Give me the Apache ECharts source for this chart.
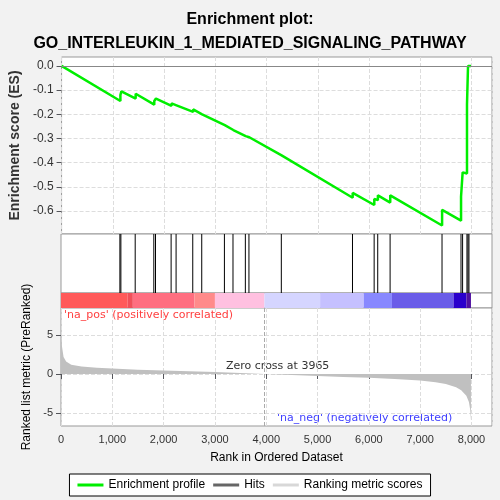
<!DOCTYPE html>
<html><head><meta charset="utf-8">
<script src="https://cdn.jsdelivr.net/npm/echarts@6/dist/echarts.min.js"></script>
<style>body{margin:0;background:#f2f2f2}#c{width:500px;height:500px}</style></head>
<body><div id="c"></div>
<script>
// hit ranks and the ES step around each hit (before, after)
var hitRanks = [1148,1167,1446,1809,1842,2146,2243,2568,2743,3185,3352,3593,3663,4294,5681,6103,6173,6414,7426,7796,7827,7912,7932,7951];
var esBefore = [-0.145,-0.12,-0.135,-0.16,-0.145,-0.165,-0.163,-0.19,-0.2,-0.245,-0.265,-0.29,-0.295,-0.37,-0.545,-0.575,-0.555,-0.565,-0.66,-0.64,-0.54,-0.445,-0.16,0.0];
var esAfter  = [-0.12,-0.105,-0.115,-0.145,-0.135,-0.155,-0.155,-0.18,-0.195,-0.24,-0.26,-0.285,-0.29,-0.365,-0.525,-0.55,-0.535,-0.535,-0.595,-0.54,-0.44,-0.16,0.0,0.005];
var lastRank = 7990;
// ranked metric samples
var metricRanks = [0,20,50,100,200,400,700,1000,1500,2000,2500,3000,3500,3965,4500,5000,5500,6000,6500,7000,7300,7500,7700,7800,7900,7950,7975,7990];
var metricVals  = [5.2,3.5,2.2,1.6,1.2,0.95,0.8,0.7,0.55,0.45,0.35,0.25,0.12,0,-0.12,-0.25,-0.38,-0.5,-0.65,-0.85,-1.05,-1.3,-1.7,-2.1,-2.8,-3.6,-4.6,-6.0];
// colour bar segments [start, end, colour]
var barStarts = [0,1300,1400,2600,3000,3965,5050,5900,6450,7650,7900];
var barEnds   = [1300,1400,2600,3000,3965,5050,5900,6450,7650,7900,7990];
var barColors = ['#ff5a5a','#f0505a','#ff6e80','#ff8a8a','#ffc0e0','#d5d5ff','#c5c0ff','#8888ff','#6a5ce8','#2a00cc','#5010a0'];

var esData = [[0,0]];
hitRanks.forEach(function(r,i){ esData.push([r,esBefore[i]]); esData.push([r,esAfter[i]]); });
esData.push([lastRank,0]);
var metricData = metricRanks.map(function(r,i){return [r,metricVals[i]];});

var L=61, R=8, XMAX=8400;
var grid = function(top,h){return {left:L,right:R,top:top,height:h,containLabel:false,borderColor:'#999',borderWidth:1,show:true,backgroundColor:'#fff'};};
var gridLine = {show:true,lineStyle:{color:'#ddd',type:'dashed'}};
var xBase = function(i,show){return {type:'value',gridIndex:i,min:0,max:XMAX,interval:1000,
  axisLabel:{show:show,color:'#333',fontSize:11,formatter:function(v){return v.toLocaleString('en-US');}},
  axisLine:{show:false},axisTick:{show:show},splitLine:gridLine};};

var opt = {
  backgroundColor:'#f2f2f2',
  animation:false,
  title:{text:'Enrichment plot:\nGO_INTERLEUKIN_1_MEDIATED_SIGNALING_PATHWAY',left:'center',top:3,
    textStyle:{fontSize:16,fontWeight:'bold',color:'#000',lineHeight:24,fontFamily:'Liberation Sans'}},
  grid:[grid(57,177),grid(234,59),grid(293,15),grid(308,118)],
  xAxis:[xBase(0,false),
    {type:'value',gridIndex:1,min:0,max:XMAX,show:false},
    {type:'value',gridIndex:2,min:0,max:XMAX,show:false},
    Object.assign(xBase(3,true),{name:'Rank in Ordered Dataset',nameLocation:'middle',nameGap:26,nameTextStyle:{fontSize:12,color:'#000'}})],
  yAxis:[
    {type:'value',gridIndex:0,min:-0.695,max:0.037,
      axisLabel:{color:'#333',fontSize:12,formatter:function(v){return v.toFixed(1);},
        customValues:[0,-0.1,-0.2,-0.3,-0.4,-0.5,-0.6]},
      axisTick:{customValues:[0,-0.1,-0.2,-0.3,-0.4,-0.5,-0.6]},
      splitLine:gridLine,axisLine:{show:false},
      name:'Enrichment score (ES)',nameLocation:'middle',nameGap:36,nameTextStyle:{fontSize:14,fontWeight:'bold',color:'#333'}},
    {type:'value',gridIndex:1,min:0,max:1,show:false},
    {type:'value',gridIndex:2,min:0,max:1,show:false},
    {type:'value',gridIndex:3,min:-6.7,max:8.5,
      axisLabel:{color:'#333',fontSize:11,customValues:[-5,0,5]},axisTick:{customValues:[-5,0,5]},
      splitLine:gridLine,axisLine:{show:false},
      name:'Ranked list metric (PreRanked)',nameLocation:'middle',nameGap:28,nameTextStyle:{fontSize:12,color:'#000'}}],
  legend:{bottom:4,left:'center',itemWidth:26,itemHeight:3,borderColor:'#000',borderWidth:1,backgroundColor:'#fff',padding:[5,8],
    textStyle:{fontSize:12,color:'#000'},icon:'rect',
    data:['Enrichment profile','Hits','Ranking metric scores']},
  series:[
    {name:'Enrichment profile',type:'line',xAxisIndex:0,yAxisIndex:0,data:esData,showSymbol:false,
      lineStyle:{color:'#00ee00',width:2.5},itemStyle:{color:'#00ee00'},
      markLine:{silent:true,symbol:'none',label:{show:false},lineStyle:{color:'#888',type:'solid',width:1},data:[{yAxis:0}]}},
    {name:'Hits',type:'custom',xAxisIndex:1,yAxisIndex:1,data:hitRanks.map(function(r){return [r];}),
      itemStyle:{color:'#666'},
      renderItem:function(p,api){var a=api.coord([api.value(0),0]),b=api.coord([api.value(0),1]);
        return {type:'line',shape:{x1:a[0],y1:a[1],x2:b[0],y2:b[1]},style:{stroke:'#000',lineWidth:1}};}},
    {type:'custom',xAxisIndex:2,yAxisIndex:2,data:barStarts.map(function(s,i){return [s,barEnds[i],i];}),
      renderItem:function(p,api){var a=api.coord([api.value(0),1]),b=api.coord([api.value(1),0]);
        return {type:'rect',shape:{x:a[0],y:a[1],width:b[0]-a[0],height:b[1]-a[1]},style:{fill:barColors[api.value(2)]}};}},
    {name:'Ranking metric scores',type:'line',xAxisIndex:3,yAxisIndex:3,data:metricData,showSymbol:false,
      lineStyle:{width:0,color:'#c0c0c0'},itemStyle:{color:'#d8d8d8'},areaStyle:{color:'#c0c0c0',opacity:1},
      markLine:{silent:true,symbol:'none',lineStyle:{color:'#aaa',type:'dashed',width:1},label:{show:false},data:[{xAxis:3965}]}}
  ],
  graphic:[
    {type:'text',left:64,top:310,style:{text:"'na_pos' (positively correlated)",fill:'#ff4040',font:'11px DejaVu Sans'}},
    {type:'text',left:226,top:361,style:{text:'Zero cross at 3965',fill:'#333',font:'11px DejaVu Sans'}},
    {type:'text',left:277,top:413,style:{text:"'na_neg' (negatively correlated)",fill:'#4040ff',font:'11px DejaVu Sans'}}
  ]
};
echarts.init(document.getElementById('c')).setOption(opt);
</script></body></html>
